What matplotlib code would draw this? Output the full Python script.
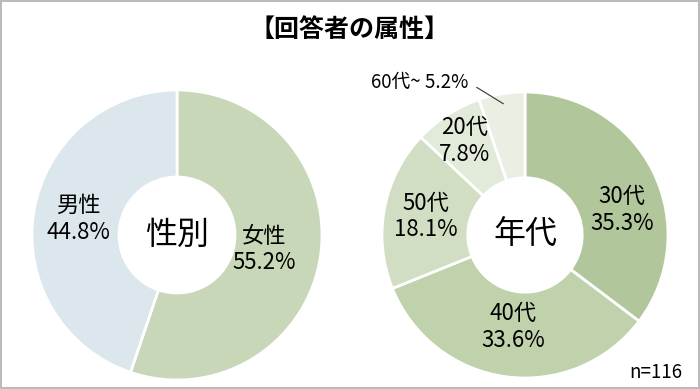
import matplotlib.pyplot as plt
import numpy as np

plt.rcParams['font.family'] = ['Noto Sans CJK JP', 'DejaVu Sans']

# Data
title = '【回答者の属性】'
n_label = 'n=116'

gender_labels = ['女性', '男性']
gender_values = [55.2, 44.8]
gender_colors = ['#c9d7b9', '#dbe7ec']

age_labels = ['30代', '40代', '50代', '20代', '60代~']
age_values = [35.3, 33.6, 18.1, 7.8, 5.2]
age_colors = ['#b1c79b', '#bfd2ab', '#d1dec4', '#e2eada', '#e9efe3']

H = 389
fig = plt.figure(figsize=(7.0, 3.89), dpi=100)
fig.patch.set_edgecolor('#bbbbbb')
fig.patch.set_linewidth(1.5)
ax = fig.add_axes([0, 0, 1, 1])


def donut(center, radius, values, colors, labels, label_r, nudge, center_text):
    wedges, _ = ax.pie(values, colors=colors, center=center, radius=radius,
                       startangle=90, counterclock=False,
                       wedgeprops=dict(width=radius * 0.6, edgecolor='white', linewidth=2))
    ax.text(center[0], center[1], center_text, ha='center', va='center',
            fontsize=23)
    out = []
    for w, lab, v, r, d in zip(wedges, labels, values, label_r, nudge):
        mid = np.deg2rad((w.theta1 + w.theta2) / 2 + d)
        x = center[0] + r * np.cos(mid)
        y = center[1] + r * np.sin(mid)
        out.append((w, lab, v, x, y, mid))
    return out


# Gender donut
g = donut((177, H - 235), 145, gender_values, gender_colors, gender_labels,
          [88, 100], [0, 0], '性別')
for w, lab, v, x, y, mid in g:
    ax.text(x, y, f'{lab}\n{v}%', ha='center', va='center', fontsize=16,
            linespacing=1.2)

# Age donut
a = donut((525, H - 235), 143, age_values, age_colors, age_labels,
          [100, 93, 101, 112, 0], [-12, 0, 0, 0, 0], '年代')
for w, lab, v, x, y, mid in a[:-1]:
    ax.text(x, y, f'{lab}\n{v}%', ha='center', va='center', fontsize=16,
            linespacing=1.2)

# small slice with leader line
w, lab, v, x, y, mid = a[-1]
cx, cy = 525, H - 235
tip = (cx + 133 * np.cos(mid), cy + 133 * np.sin(mid))
ax.annotate(f'{lab} {v}%', xy=tip, xytext=(468, H - 82), ha='right', va='center',
            fontsize=13.5,
            arrowprops=dict(arrowstyle='-', color='#333333', lw=0.8,
                            shrinkA=5, shrinkB=0, relpos=(1.0, 0.5)))

ax.text(350, H - 30, title, ha='center', va='center', fontsize=18,
        fontweight='bold')
ax.text(656, H - 372, n_label, ha='center', va='center', fontsize=13.5)

# pie() resets the limits, so fix them afterwards
ax.set_xlim(0, 700)
ax.set_ylim(0, H)
ax.set_aspect('equal')
ax.axis('off')

fig.savefig('out.png', dpi=100, edgecolor=fig.get_edgecolor())
